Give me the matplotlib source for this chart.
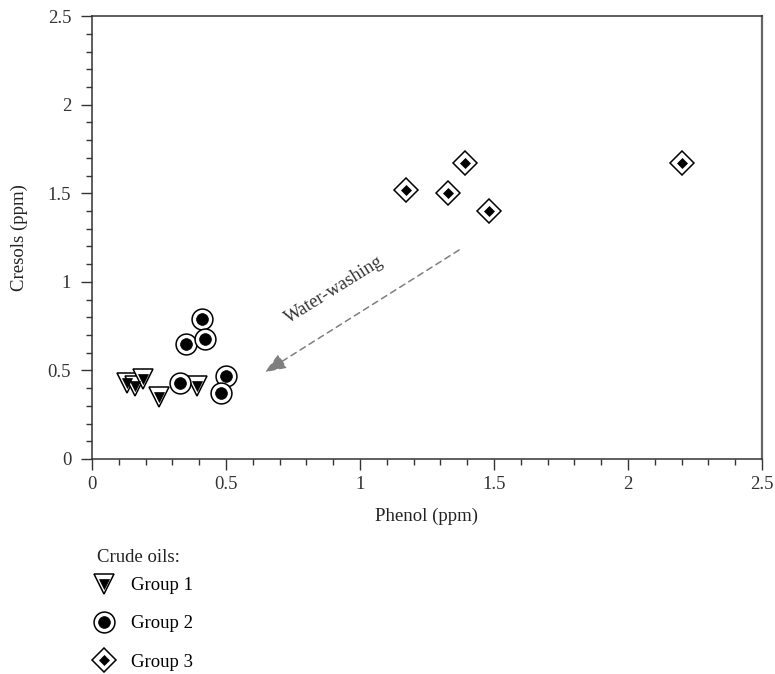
import matplotlib
matplotlib.use("Agg")
import matplotlib.pyplot as plt
from matplotlib.ticker import MultipleLocator
from matplotlib.legend_handler import HandlerTuple

plt.rcParams['font.family'] = ['Liberation Serif', 'DejaVu Serif']

# Data
g1_phenol = [0.13, 0.16, 0.19, 0.25, 0.39]
g1_cresols = [0.43, 0.41, 0.45, 0.35, 0.41]
g2_phenol = [0.41, 0.35, 0.42, 0.33, 0.50, 0.48]
g2_cresols = [0.79, 0.65, 0.68, 0.43, 0.47, 0.37]
g3_phenol = [1.17, 1.33, 1.39, 1.48, 2.20]
g3_cresols = [1.52, 1.50, 1.67, 1.40, 1.67]
labels = ["Group 1", "Group 2", "Group 3"]
arrow_start = (1.37, 1.18)
arrow_end = (0.645, 0.49)

fig = plt.figure(figsize=(7.75, 6.74), dpi=100)
ax = fig.add_axes([0.1187, 0.319, 0.8645, 0.657])

lw = 1.1
# Group 1
o1, = ax.plot(g1_phenol, g1_cresols, ls='none', marker='v', ms=14.5, mfc='white', mec='black', mew=lw)
i1, = ax.plot(g1_phenol, g1_cresols, ls='none', marker='v', ms=6.5, mfc='black', mec='black', mew=0.5)
# Group 2
o2, = ax.plot(g2_phenol, g2_cresols, ls='none', marker='o', ms=15, mfc='white', mec='black', mew=lw)
i2, = ax.plot(g2_phenol, g2_cresols, ls='none', marker='o', ms=8.5, mfc='black', mec='black', mew=0.5)
# Group 3
o3, = ax.plot(g3_phenol, g3_cresols, ls='none', marker='D', ms=12.5, mfc='white', mec='black', mew=lw)
i3, = ax.plot(g3_phenol, g3_cresols, ls='none', marker='D', ms=5, mfc='black', mec='black', mew=0.5)

ax.annotate("", xy=arrow_end, xytext=arrow_start,
            arrowprops=dict(arrowstyle='-|>,head_length=1.3,head_width=0.5', color='#7f7f7f',
                            ls=(0, (4, 3)), lw=1.1, shrinkA=0, shrinkB=0))
ax.text(0.905, 0.955, "Water-washing", rotation=32, ha='center', va='center', fontsize=13.5, color='#333333')

ax.set_xlim(0, 2.5)
ax.set_ylim(0, 2.5)
ticks = [0, 0.5, 1, 1.5, 2, 2.5]
tick_labels = ["0", "0.5", "1", "1.5", "2", "2.5"]
ax.set_xticks(ticks)
ax.set_xticklabels(tick_labels)
ax.set_yticks(ticks)
ax.set_yticklabels(tick_labels)
ax.xaxis.set_minor_locator(MultipleLocator(0.1))
ax.yaxis.set_minor_locator(MultipleLocator(0.1))
ax.tick_params(which='major', direction='out', length=8, width=1.0, labelsize=13.5,
               colors='#333333')
ax.tick_params(axis='x', which='major', pad=4)
ax.tick_params(axis='y', which='major', pad=7)
ax.tick_params(which='minor', direction='out', length=4, width=1.0, colors='#333333')
for s in ax.spines.values():
    s.set_color('#333333')
    s.set_linewidth(1.1)
ax.spines['right'].set_color('#666666')
ax.spines['right'].set_linewidth(1.6)
ax.set_xlabel("Phenol (ppm)", fontsize=13.5, labelpad=11, color='#222222')
ax.set_ylabel("Cresols (ppm)", fontsize=13.5, labelpad=14, color='#222222')

fig.text(97 / 775, 1 - 557 / 674, "Crude oils:", fontsize=13.5, va='center', ha='left', color='#222222')
leg = fig.legend([(o1, i1), (o2, i2), (o3, i3)], labels,
                 handler_map={tuple: HandlerTuple(ndivide=1, pad=0)},
                 loc='upper left', bbox_to_anchor=(0.1155, 0.144), frameon=False,
                 fontsize=13.5, handlelength=1.5, handletextpad=0.72, labelspacing=1.13,
                 borderpad=0, borderaxespad=0)

fig.savefig("out.png", dpi=100)
